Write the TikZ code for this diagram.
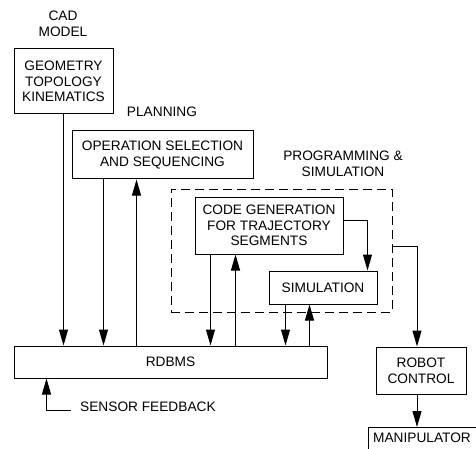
\documentclass[tikz,border=0pt]{standalone}
\usepackage{fontspec}
\setmainfont{Liberation Sans}
\usetikzlibrary{arrows.meta,calc}
\begin{document}
\begin{tikzpicture}[x=1pt,y=-1pt,
  every node/.style={font=\fontsize{13.7pt}{15.6pt}\selectfont},
  box/.style={draw,line width=1pt,inner sep=0pt,align=center},
  lbl/.style={inner sep=0pt,align=center},
  arr/.style={line width=1pt,-{Triangle[length=16pt,width=9pt]}},
  ln/.style={line width=1pt}]
\useasboundingbox (0,0) rectangle (476,449);
\node[lbl] (cad) at (63,24) {CAD\\MODEL};
\node[box,minimum width=99pt,minimum height=65pt] (geom) at (63.5,81.5) {GEOMETRY\\TOPOLOGY\\KINEMATICS};
\node[lbl] (plan) at (162,112) {PLANNING};
\node[box,minimum width=181pt,minimum height=48pt] (op) at (162.5,155) {OPERATION SELECTION\\AND SEQUENCING};
\node[lbl] (prog) at (343,164) {PROGRAMMING \&\\SIMULATION};
\node[draw,dashed,dash pattern=on 9pt off 5pt,line width=1pt,minimum width=221pt,minimum height=123pt,inner sep=0pt] (dash) at (281.5,250.5) {};
\node[box,minimum width=148pt,minimum height=57pt] (cg) at (269,225.5) {CODE GENERATION\\FOR TRAJECTORY\\SEGMENTS};
\node[box,minimum width=108pt,minimum height=33pt] (sim) at (323,287.5) {SIMULATION};
\node[box,minimum width=313pt,minimum height=32pt] (rdbms) at (170.5,362) {RDBMS};
\node[box,minimum width=90pt,minimum height=47pt] (robot) at (421,370.5) {ROBOT\\CONTROL};
\node[lbl] (manip) at (422,438) {MANIPULATOR};
\coordinate (mtop) at (417,427);
\draw[ln] (368,449) -- (368,427) -- (476,427);
\node[lbl,anchor=west] (sens) at (80,407) {SENSOR FEEDBACK};
\coordinate (sf) at (71,410);
% connectors
\draw[arr] (geom.south) -- (geom.south |- rdbms.north);
\draw[arr] ([xshift=32pt]op.south west) -- ([xshift=32pt]op.south west |- rdbms.north);
\draw[arr] ([xshift=65pt]op.south west |- rdbms.north) -- ([xshift=65pt]op.south west);
\draw[arr] ([xshift=16pt]cg.south west) -- ([xshift=16pt]cg.south west |- rdbms.north);
\draw[arr] ([xshift=41pt]cg.south west |- rdbms.north) -- ([xshift=41pt]cg.south west);
\draw[arr] ([xshift=17pt]sim.south west) -- ([xshift=17pt]sim.south west |- rdbms.north);
\draw[arr] ([xshift=41pt]sim.south west |- rdbms.north) -- ([xshift=41pt]sim.south west);
\draw[arr] ([yshift=-24pt]cg.north east) -| ([xshift=99pt]sim.north west);
\draw[arr] ([yshift=4pt]dash.east) -| ([xshift=-4pt]robot.north);
\draw[arr] ([xshift=-4pt]robot.south) -- (mtop);
\draw[arr] (sf) -| ([xshift=33pt]rdbms.south west);
\end{tikzpicture}
\end{document}
